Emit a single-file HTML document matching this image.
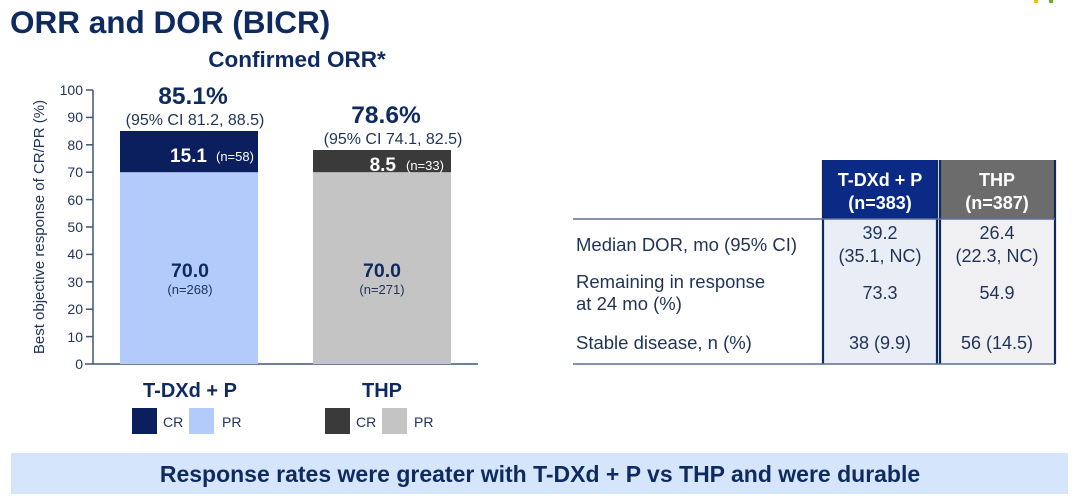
<!DOCTYPE html>
<html><head><meta charset="utf-8"><style>
html,body{margin:0;padding:0;background:#fff;}
svg{display:block;font-family:"Liberation Sans",Arial,sans-serif;}
</style></head><body>
<svg width="1080" height="502" viewBox="0 0 1080 502" xmlns="http://www.w3.org/2000/svg">
<rect x="1034" y="0" width="4" height="3" fill="#f2c200"/><rect x="1049" y="0" width="4" height="3" fill="#6ab023"/>
<text x="10" y="33" font-size="31.5" font-weight="bold" fill="#0f2a5e">ORR and DOR (BICR)</text>
<text x="297" y="67" font-size="22.5" font-weight="bold" fill="#0f2a5e" text-anchor="middle">Confirmed ORR*</text>
<g stroke="#3e5578" stroke-width="1.5">
<line x1="93" y1="90" x2="93" y2="364"/>
<line x1="85" y1="364" x2="478" y2="364"/>
<line x1="86" y1="90" x2="93" y2="90"/><line x1="86" y1="117.4" x2="93" y2="117.4"/><line x1="86" y1="144.8" x2="93" y2="144.8"/><line x1="86" y1="172.2" x2="93" y2="172.2"/><line x1="86" y1="199.6" x2="93" y2="199.6"/><line x1="86" y1="227" x2="93" y2="227"/><line x1="86" y1="254.4" x2="93" y2="254.4"/><line x1="86" y1="281.8" x2="93" y2="281.8"/><line x1="86" y1="309.2" x2="93" y2="309.2"/><line x1="86" y1="336.6" x2="93" y2="336.6"/>
</g>
<g font-size="14" fill="#1f3358" text-anchor="end">
<text x="83" y="95">100</text><text x="83" y="122">90</text><text x="83" y="150">80</text><text x="83" y="177">70</text><text x="83" y="205">60</text><text x="83" y="232">50</text><text x="83" y="259">40</text><text x="83" y="287">30</text><text x="83" y="314">20</text><text x="83" y="342">10</text><text x="83" y="369">0</text>
</g>
<text transform="translate(44,227) rotate(-90)" font-size="15" fill="#1f3358" text-anchor="middle">Best objective response of CR/PR (%)</text>
<rect x="120" y="172.2" width="138" height="191.8" fill="#b3cbfb"/>
<rect x="120" y="131" width="138" height="41.2" fill="#0b1f5e"/>
<rect x="313" y="172.2" width="138" height="191.8" fill="#c4c4c4"/>
<rect x="313" y="150" width="138" height="22.2" fill="#3a3a3a"/>
<text x="207" y="162" font-size="19" font-weight="bold" fill="#fff" text-anchor="end">15.1</text>
<text x="216" y="161" font-size="13" fill="#fff">(n=58)</text>
<text x="396" y="171" font-size="19" font-weight="bold" fill="#fff" text-anchor="end">8.5</text>
<text x="406" y="170" font-size="13" fill="#fff">(n=33)</text>
<text x="193" y="104" font-size="24.5" font-weight="bold" fill="#0f2a5e" text-anchor="middle">85.1%</text>
<text x="195" y="125" font-size="16" fill="#1f3358" text-anchor="middle">(95% CI 81.2, 88.5)</text>
<text x="386" y="123" font-size="24.5" font-weight="bold" fill="#0f2a5e" text-anchor="middle">78.6%</text>
<text x="393" y="144" font-size="16" fill="#1f3358" text-anchor="middle">(95% CI 74.1, 82.5)</text>
<text x="190" y="277" font-size="19.5" font-weight="bold" fill="#0f2a5e" text-anchor="middle">70.0</text>
<text x="190" y="294" font-size="13" fill="#1f3358" text-anchor="middle">(n=268)</text>
<text x="382" y="277" font-size="19.5" font-weight="bold" fill="#0f2a5e" text-anchor="middle">70.0</text>
<text x="382" y="294" font-size="13" fill="#1f3358" text-anchor="middle">(n=271)</text>
<text x="190" y="397" font-size="20" font-weight="bold" fill="#0f2a5e" text-anchor="middle">T-DXd + P</text>
<text x="382" y="397" font-size="20" font-weight="bold" fill="#0f2a5e" text-anchor="middle">THP</text>
<rect x="132" y="408" width="25" height="26" fill="#0b1f5e"/><text x="163" y="427" font-size="14" fill="#1f3358">CR</text>
<rect x="189" y="408" width="25" height="26" fill="#b3cbfb"/><text x="222" y="427" font-size="14" fill="#1f3358">PR</text>
<rect x="325" y="408" width="25" height="26" fill="#3a3a3a"/><text x="356" y="427" font-size="14" fill="#1f3358">CR</text>
<rect x="382" y="408" width="25" height="26" fill="#c4c4c4"/><text x="414" y="427" font-size="14" fill="#1f3358">PR</text>
<rect x="823" y="160" width="114" height="59" fill="#0a2a86"/>
<rect x="940" y="160" width="115" height="59" fill="#6c6c6c"/>
<rect x="823" y="219" width="114" height="145" fill="#e9edf6"/>
<rect x="940" y="219" width="115" height="145" fill="#f0f0f2"/>
<g stroke="#0f2a5e" stroke-width="2.2">
<line x1="823" y1="160" x2="823" y2="364"/><line x1="937" y1="160" x2="937" y2="364"/>
<line x1="940" y1="160" x2="940" y2="364"/><line x1="1055" y1="160" x2="1055" y2="364"/>
</g>
<line x1="573" y1="219" x2="1055" y2="219" stroke="#5a6f95" stroke-width="1.5"/>
<line x1="573" y1="364" x2="1055" y2="364" stroke="#5a6f95" stroke-width="1.5"/>
<g font-size="18" font-weight="bold" fill="#fff" text-anchor="middle">
<text x="880" y="186">T-DXd + P</text><text x="880" y="209">(n=383)</text>
<text x="997" y="186">THP</text><text x="997" y="209">(n=387)</text>
</g>
<g font-size="18.5" fill="#1f3358">
<text x="576" y="251">Median DOR, mo (95% CI)</text>
<text x="576" y="288">Remaining in response</text>
<text x="576" y="310">at 24 mo (%)</text>
<text x="576" y="349">Stable disease, n (%)</text>
</g>
<g font-size="18" fill="#1f3358" text-anchor="middle">
<text x="880" y="239">39.2</text><text x="880" y="262">(35.1, NC)</text>
<text x="997" y="239">26.4</text><text x="997" y="262">(22.3, NC)</text>
<text x="880" y="299">73.3</text><text x="997" y="299">54.9</text>
<text x="880" y="349">38 (9.9)</text><text x="997" y="349">56 (14.5)</text>
</g>
<rect x="11" y="453" width="1057" height="41" fill="#d5e5fb"/>
<text x="540" y="482" font-size="23" font-weight="bold" fill="#0f2a5e" text-anchor="middle">Response rates were greater with T-DXd + P vs THP and were durable</text>
</svg>
</body></html>
